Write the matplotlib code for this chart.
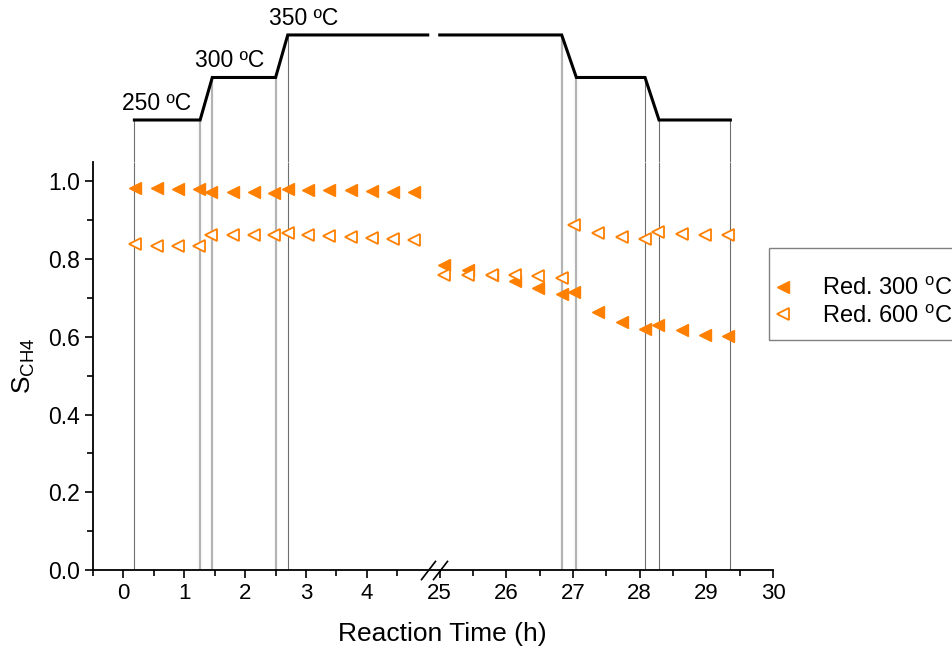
import numpy as np
import matplotlib
matplotlib.use('Agg')
import matplotlib.pyplot as plt
from matplotlib.patches import Rectangle

plt.rcParams['font.family'] = 'Liberation Sans'
plt.rcParams['mathtext.fontset'] = 'custom'
plt.rcParams['mathtext.rm'] = 'Liberation Sans'
plt.rcParams['mathtext.it'] = 'Liberation Sans:italic'

# reaction time (h) and CH4 selectivity
time_h = [0.19, 0.55, 0.90, 1.24, 1.44, 1.80, 2.14, 2.48, 2.70, 3.04, 3.38, 3.74, 4.08, 4.43, 4.78,
          25.06, 25.43, 25.78, 26.13, 26.48, 26.84, 27.02, 27.38, 27.73, 28.08, 28.28, 28.63, 28.98, 29.33]
s_red300 = [0.984, 0.982, 0.981, 0.981, 0.974, 0.972, 0.972, 0.971, 0.981, 0.979, 0.978, 0.977, 0.976, 0.974, 0.973,
            0.786, 0.773, 0.758, 0.745, 0.726, 0.711, 0.716, 0.663, 0.637, 0.620, 0.631, 0.617, 0.606, 0.601]
s_red600 = [0.839, 0.835, 0.835, 0.835, 0.861, 0.861, 0.863, 0.863, 0.866, 0.862, 0.859, 0.856, 0.854, 0.852, 0.850,
            0.760, 0.760, 0.758, 0.759, 0.756, 0.752, 0.887, 0.868, 0.857, 0.851, 0.870, 0.864, 0.862, 0.861]

# temperature program
prof_t = [0.18, 1.26, 1.46, 2.50, 2.70, 5.0, np.nan, 25.0, 26.83, 27.05, 28.08, 28.29, 29.36]
prof_T = [250, 250, 300, 300, 350, 350, np.nan, 350, 350, 300, 300, 250, 250]
switch_t = [0.18, 1.26, 1.46, 2.50, 2.70, 26.83, 27.05, 28.08, 28.29, 29.36]
switch_T = [250, 250, 300, 300, 350, 350, 300, 300, 250, 250]
switch_light = [False, True, True, True, False, True, True, False, False, False]
temp_labels = ['250 ºC', '300 ºC', '350 ºC']
temp_label_x = [-0.03, 1.18, 2.39]
temp_label_T = [250, 300, 350]

# broken x axis: 0-5 h, then 25-30 h
xp = [-10, 5.05, 24.9, 40]
tp = [-488, 430, 432.3, 1441]
fwd = lambda x: np.interp(x, xp, tp)
inv = lambda t: np.interp(t, tp, xp)

orange = '#FF8000'

fig = plt.figure(figsize=(9.52, 6.5), dpi=100)
ax = fig.add_axes([93/952, 80/650, 680/952, 408/650])
axt = fig.add_axes([93/952, 488/650, 680/952, 142/650])

for a in (ax, axt):
    a.set_xscale('function', functions=(fwd, inv))
    a.set_xlim(-0.5, 30)

# main panel
ax.vlines([t for t, l in zip(switch_t, switch_light) if l], 0, 1.05, color='#b4b4b4', lw=1.6, zorder=1)
ax.vlines([t for t, l in zip(switch_t, switch_light) if not l], 0, 1.05, color='#6e6e6e', lw=0.8, zorder=1)
ax.plot(time_h, s_red300, ls='none', marker='<', ms=8, color=orange, mec=orange,
        label='Red. 300 $^\\mathrm{o}$C', zorder=3)
ax.plot(time_h, s_red600, ls='none', marker='<', ms=8, mfc='white', mec=orange, mew=1.3,
        label='Red. 600 $^\\mathrm{o}$C', zorder=4)

ax.set_ylim(0, 1.05)
ax.set_yticks([0.0, 0.2, 0.4, 0.6, 0.8, 1.0])
ax.set_yticks(np.arange(0.1, 1.0, 0.2), minor=True)
ax.set_yticklabels(['0.0', '0.2', '0.4', '0.6', '0.8', '1.0'])
ax.set_xticks([0, 1, 2, 3, 4, 25, 26, 27, 28, 29, 30])
ax.set_xticklabels(['0', '1', '2', '3', '4', '25', '26', '27', '28', '29', '30'])
ax.set_xticks([-0.5, 0.5, 1.5, 2.5, 3.5, 4.5, 25.5, 26.5, 27.5, 28.5, 29.5], minor=True)
ax.tick_params(which='both', direction='out', width=1.2, labelsize=16)
ax.tick_params(axis='y', labelsize=16.5)
ax.tick_params(which='major', length=6)
ax.tick_params(which='minor', length=4)
ax.spines['top'].set_visible(False)
ax.spines['right'].set_visible(False)
ax.spines['left'].set_linewidth(1.3)
ax.spines['bottom'].set_linewidth(1.3)
ax.set_xlabel('Reaction Time (h)', fontsize=19, labelpad=13)
ax.xaxis.label.set_x(0.513)
ax.set_ylabel('S$_\\mathrm{CH4}$', fontsize=19, labelpad=8)

# break marks
ax.plot([5.0, 25.0], [0, 0], ls='none', marker=[(-1, -1.3), (1, 1.3)], ms=14,
        mec='k', mew=1.2, color='k', clip_on=False, zorder=5)

# legend (frame drawn separately, it runs past the right edge)
ax.legend(loc='upper left', bbox_to_anchor=(769/952, 1 - 271/650), bbox_transform=fig.transFigure,
          borderaxespad=0, fontsize=17, frameon=False,
          handlelength=0.6, handletextpad=1.35, borderpad=0.3, labelspacing=0.22)
fig.add_artist(Rectangle((769/952, 1 - 340/650), 0.3, 92/650, transform=fig.transFigure,
                         fill=False, ec='#808080', lw=1))

# temperature profile panel
axt.set_ylim(200.6, 367.6)
axt.plot(prof_t, prof_T, color='k', lw=2.2, solid_joinstyle='miter')
for t, T, l in zip(switch_t, switch_T, switch_light):
    if l:
        axt.vlines(t, 200.6, T, color='#b4b4b4', lw=1.6, zorder=1)
    else:
        axt.vlines(t, 200.6, T, color='#6e6e6e', lw=0.8, zorder=1)
for s, x, T in zip(temp_labels, temp_label_x, temp_label_T):
    axt.text(x, T + 6, s, fontsize=16.5, ha='left', va='bottom')
axt.axis('off')

fig.savefig('out.png', dpi=100)
